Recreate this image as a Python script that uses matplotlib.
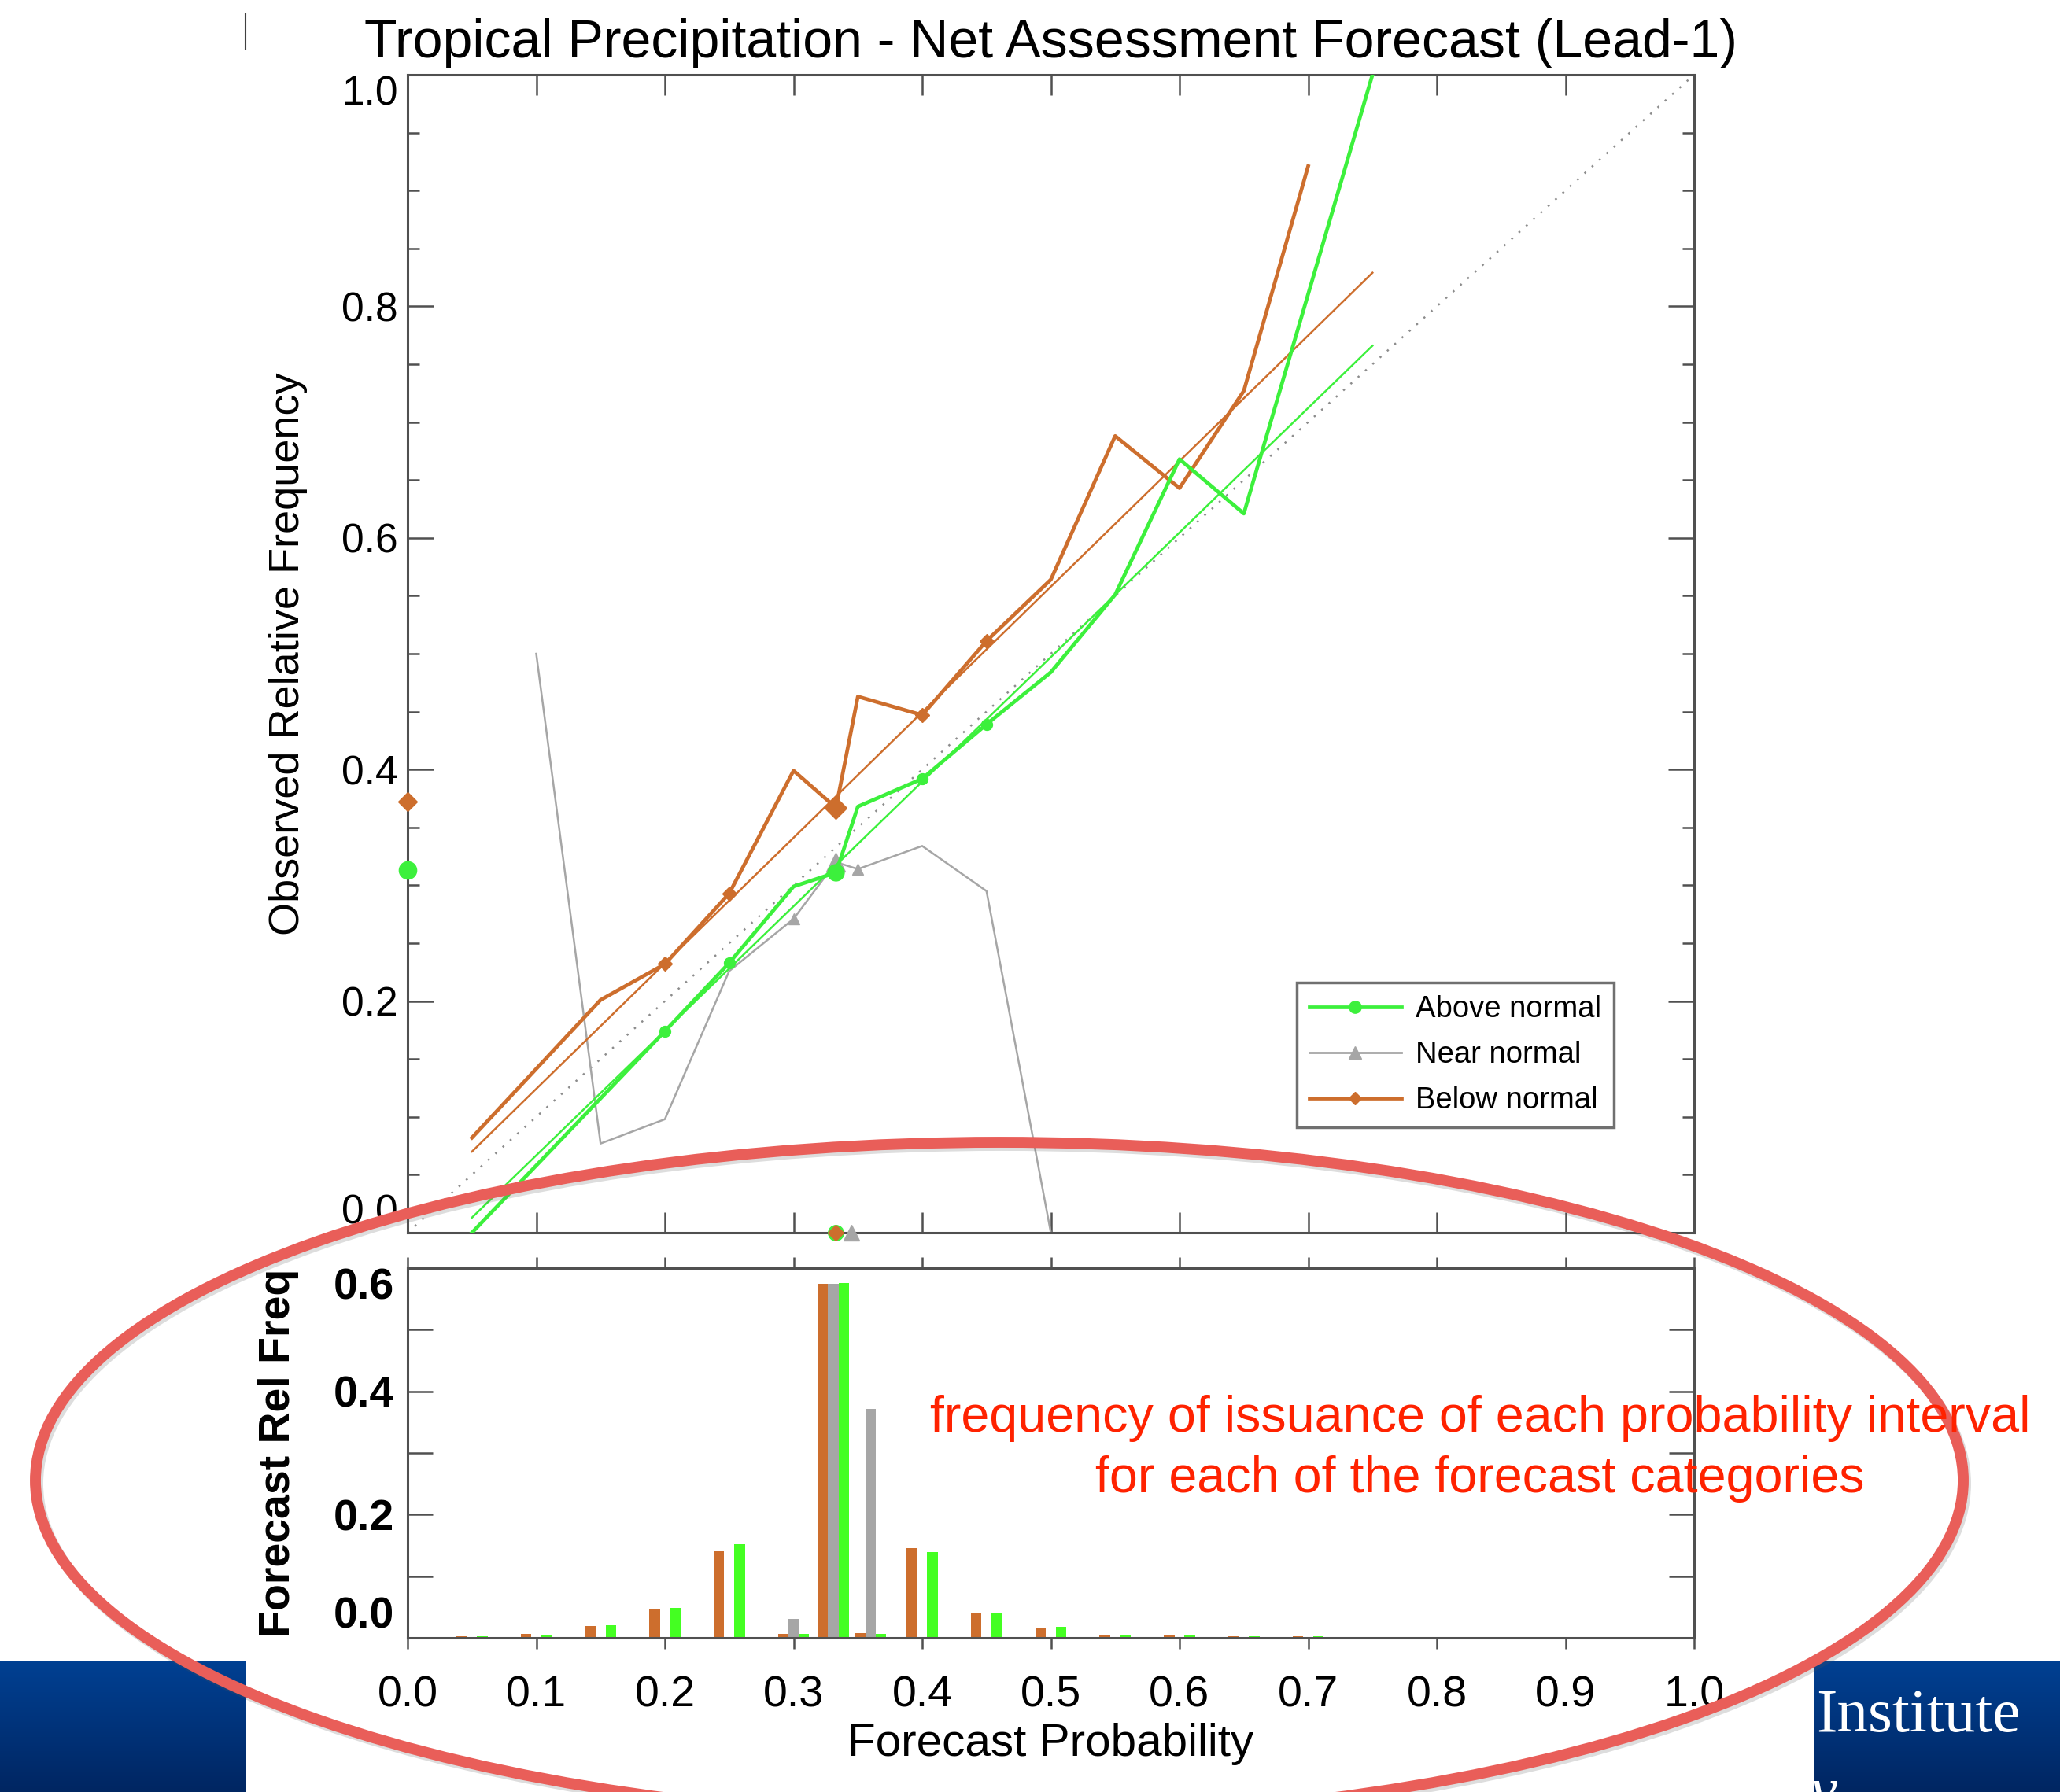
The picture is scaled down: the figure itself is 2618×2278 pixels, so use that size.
import numpy as np
import matplotlib
matplotlib.use("Agg")
import matplotlib.pyplot as plt
from matplotlib.lines import Line2D
from matplotlib.patches import Ellipse

plt.rcParams['font.family'] = ['Liberation Sans', 'DejaVu Sans']

# Reliability curves: observed relative frequency per forecast probability bin
below_prob = [0.05, 0.15, 0.20, 0.25, 0.30, 0.333, 0.35, 0.40, 0.45, 0.50, 0.55, 0.60, 0.65, 0.70]
below_obs = [0.082, 0.201, 0.232, 0.293, 0.399, 0.367, 0.463, 0.447, 0.511, 0.564, 0.688, 0.643, 0.727, 0.921]
above_prob = [0.05, 0.20, 0.25, 0.30, 0.333, 0.35, 0.40, 0.45, 0.50, 0.55, 0.60, 0.65, 0.75]
above_obs = [0.0, 0.174, 0.233, 0.299, 0.311, 0.368, 0.392, 0.439, 0.484, 0.551, 0.668, 0.621, 1.0]
near_prob = [0.10, 0.15, 0.20, 0.25, 0.30, 0.333, 0.35, 0.40, 0.45, 0.50]
near_obs = [0.50, 0.077, 0.098, 0.226, 0.271, 0.320, 0.314, 0.334, 0.295, 0.0]

# points drawn with a marker (small) and the climatological bin (large)
below_marked, below_big = [2, 3, 7, 8], [5]
above_marked, above_big = [1, 2, 6, 7], [4]
near_marked, near_big = [4, 6], [5]

# weighted regression lines
fit_prob = [0.05, 0.75]
below_fit = [0.070, 0.829]
above_fit = [0.013, 0.766]

# climatology marks on the axes
clim_obs = {'below': 0.372, 'above': 0.313}
mean_prob = {'above': 0.333, 'below': 0.333, 'near': 0.345}

# forecast relative frequency histogram
hist_bins = [0.05, 0.10, 0.15, 0.20, 0.25, 0.30, 0.331, 0.360, 0.40, 0.45, 0.50, 0.55, 0.60, 0.65, 0.70]
hist_below = [0.003, 0.006, 0.019, 0.046, 0.141, 0.007, 0.575, 0.008, 0.145, 0.039, 0.016, 0.005, 0.005, 0.002, 0.002]
hist_near = [0.0, 0.0, 0.0, 0.0, 0.0, 0.031, 0.575, 0.371, 0.0, 0.0, 0.0, 0.0, 0.0, 0.0, 0.0]
hist_above = [0.002, 0.004, 0.020, 0.049, 0.152, 0.006, 0.576, 0.007, 0.139, 0.039, 0.018, 0.005, 0.004, 0.002, 0.002]

GREEN = '#3CF03C'
GRAY = '#A6A6A6'
ORANGE = '#CD6E2D'
SPINE = '#505050'

W, H = 2618, 2278
fig = plt.figure(figsize=(W / 100, H / 100), dpi=100)
fig.patch.set_facecolor('white')

def frac(left, top, right, bottom):
    return [left / W, 1 - bottom / H, (right - left) / W, (bottom - top) / H]

ax = fig.add_axes(frac(518, 95, 2153, 1567))
axh = fig.add_axes(frac(518, 1612, 2153, 2082))

# ---- reliability diagram ----
ax.plot([0, 1], [0, 1], color='#8C8C8C', lw=1.8, dashes=(1, 4), zorder=1)
ax.plot(near_prob, near_obs, color=GRAY, lw=1.8, zorder=2)
ax.plot(np.array(near_prob)[near_marked], np.array(near_obs)[near_marked], '^',
        color=GRAY, ms=10, zorder=3)
ax.plot(np.array(near_prob)[near_big], np.array(near_obs)[near_big], '^',
        color=GRAY, ms=17, zorder=3)

ax.plot(fit_prob, below_fit, color=ORANGE, lw=1.8, zorder=3)
ax.plot(fit_prob, above_fit, color=GREEN, lw=1.8, zorder=3)

ax.plot(below_prob, below_obs, color=ORANGE, lw=3.4, zorder=4)
ax.plot(np.array(below_prob)[below_marked], np.array(below_obs)[below_marked], 'D',
        color=ORANGE, ms=9, zorder=5)
ax.plot(np.array(below_prob)[below_big], np.array(below_obs)[below_big], 'D',
        color=ORANGE, ms=14, zorder=5)

ax.plot(above_prob, above_obs, color=GREEN, lw=3.4, zorder=4)
ax.plot(np.array(above_prob)[above_marked], np.array(above_obs)[above_marked], 'o',
        color=GREEN, ms=10, zorder=5)
ax.plot(np.array(above_prob)[above_big], np.array(above_obs)[above_big], 'o',
        color=GREEN, ms=15, zorder=5)

# climatological observed frequency (x = 0) and mean forecast probability (y = 0)
ax.plot([0], [clim_obs['below']], 'D', color=ORANGE, ms=12, clip_on=False, zorder=6)
ax.plot([0], [clim_obs['above']], 'o', color=GREEN, ms=16, clip_on=False, zorder=6)
ax.plot([mean_prob['near']], [0], '^', color=GRAY, ms=14, clip_on=False, zorder=6)
ax.plot([mean_prob['above']], [0], 'o', color=GREEN, ms=14, clip_on=False, zorder=6)
ax.plot([mean_prob['below']], [0], 'D', color=ORANGE, ms=10, clip_on=False, zorder=7)

ax.set_xlim(0, 1)
ax.set_ylim(0, 1)
ax.set_xticks(np.arange(0, 1.01, 0.1))
ax.set_yticks(np.arange(0, 1.01, 0.2))
ax.set_yticks(np.arange(0, 1.01, 0.05), minor=True)
ax.set_yticklabels(['0.0', '0.2', '0.4', '0.6', '0.8', '1.0'])
ax.tick_params(axis='x', which='both', direction='in', top=True, bottom=True,
               labelbottom=False, length=19, width=1.8, color=SPINE)
ax.tick_params(axis='y', which='major', direction='in', left=True, right=True,
               length=24, width=1.8, color=SPINE, labelsize=37, pad=9)
ax.tick_params(axis='y', which='minor', direction='in', left=True, right=True,
               length=11, width=1.8, color=SPINE)
yt = ax.yaxis.get_major_ticks()
yt[0].label1.set_va('bottom')
yt[-1].label1.set_va('top')
for s in ax.spines.values():
    s.set_color(SPINE)
    s.set_linewidth(2.2)

ax.set_title('Tropical Precipitation - Net Assessment Forecast (Lead-1)',
             fontsize=49, pad=16)
ax.set_ylabel('Observed Relative Frequency', fontsize=39)
ax.yaxis.set_label_coords(-0.093, 0.5)
ax.yaxis.label.set_va('center')

handles = [
    Line2D([], [], color=GREEN, lw=3.4, marker='o', ms=11),
    Line2D([], [], color=GRAY, lw=2.0, marker='^', ms=11),
    Line2D([], [], color=ORANGE, lw=3.4, marker='D', ms=8),
]
leg = ax.legend(handles, ['Above normal', 'Near normal', 'Below normal'],
                loc='upper left', bbox_to_anchor=(0.6911, 0.2160), borderaxespad=0,
                fontsize=27.5, handlelength=3.06, handletextpad=0.47,
                borderpad=0.42, labelspacing=0.58, fancybox=False,
                framealpha=1, edgecolor='#707070')
leg.get_frame().set_linewidth(2.5)

# ---- forecast frequency histogram ----
bw = 0.0082
off = 0.008
bins = np.array(hist_bins)
axh.bar(bins - off, hist_below, width=bw, color=ORANGE, linewidth=0)
axh.bar(bins, hist_near, width=bw, color=GRAY, linewidth=0)
axh.bar(bins + off, hist_above, width=bw, color='#44FF22', linewidth=0)

axh.set_xlim(0, 1)
axh.set_ylim(0, 0.6)
axh.set_xticks(np.arange(0, 1.01, 0.1))
axh.set_xticklabels([f'{v:.1f}' for v in np.arange(0, 1.01, 0.1)])
axh.set_yticks([0, 0.2, 0.4, 0.6])
axh.set_yticklabels(['0.0', '0.2', '0.4', '0.6'], fontweight='bold')
axh.set_yticks([0.1, 0.3, 0.5], minor=True)
axh.tick_params(axis='x', which='both', direction='out', top=True, bottom=True,
                length=10, width=1.8, color=SPINE, labelsize=40, pad=24)
axh.tick_params(axis='y', which='both', direction='in', left=True, right=True,
                length=23, width=1.8, color=SPINE, labelsize=40, pad=12)
ht = axh.yaxis.get_major_ticks()
ht[0].label1.set_va('bottom')
ht[-1].label1.set_va('top')
for s in axh.spines.values():
    s.set_color(SPINE)
    s.set_linewidth(2.2)

axh.set_xlabel('Forecast Probability', fontsize=42)
axh.xaxis.set_label_coords(0.5, -0.287)
axh.xaxis.label.set_va('center')
axh.set_ylabel('Forecast Rel Freq', fontsize=40, fontweight='bold')
axh.yaxis.set_label_coords(-0.1003, 0.5)
axh.yaxis.label.set_va('center')

# ---- slide overlay: banners, highlight ellipse, note ----
ov = fig.add_axes([0, 0, 1, 1], zorder=10)
ov.patch.set_alpha(0)
ov.axis('off')

grad = np.linspace(0, 1, 64)[:, None, None]
top_c = np.array([0, 64, 146]) / 255
bot_c = np.array([0, 38, 98]) / 255
grad_img = top_c * (1 - grad) + bot_c * grad
ov.imshow(grad_img, extent=(0, 312, 2278, 2112), origin='upper', aspect='auto')
ov.imshow(grad_img, extent=(2305, W, 2278, 2112), origin='upper', aspect='auto')
ov.text(2308, 2201, 'Institute', color='white', fontsize=57,
        family=['Liberation Serif', 'DejaVu Serif'], ha='left', va='baseline')
ov.text(2300, 2300, 'y', color='white', fontsize=57, style='italic',
        family=['Liberation Serif', 'DejaVu Serif'], ha='left', va='baseline')
ov.plot([312, 312], [18, 62], color='#404040', lw=1.5)

# highlight ring with a faint drop shadow
shadow = Ellipse((1273, 1886), 2450, 860, fill=False, edgecolor='#555555',
                 lw=10, alpha=0.2)
ov.add_patch(shadow)
ring = Ellipse((1270, 1882), 2450, 860, fill=False, edgecolor='#E95E59', lw=10)
ov.add_patch(ring)

ov.text(1881, 1820, 'frequency of issuance of each probability interval',
        color='#FF2200', fontsize=46.5, ha='center', va='baseline')
ov.text(1881, 1897, 'for each of the forecast categories',
        color='#FF2200', fontsize=46.5, ha='center', va='baseline')

ov.set_xlim(0, W)
ov.set_ylim(H, 0)

fig.savefig('out.png', dpi=100, facecolor='white')
